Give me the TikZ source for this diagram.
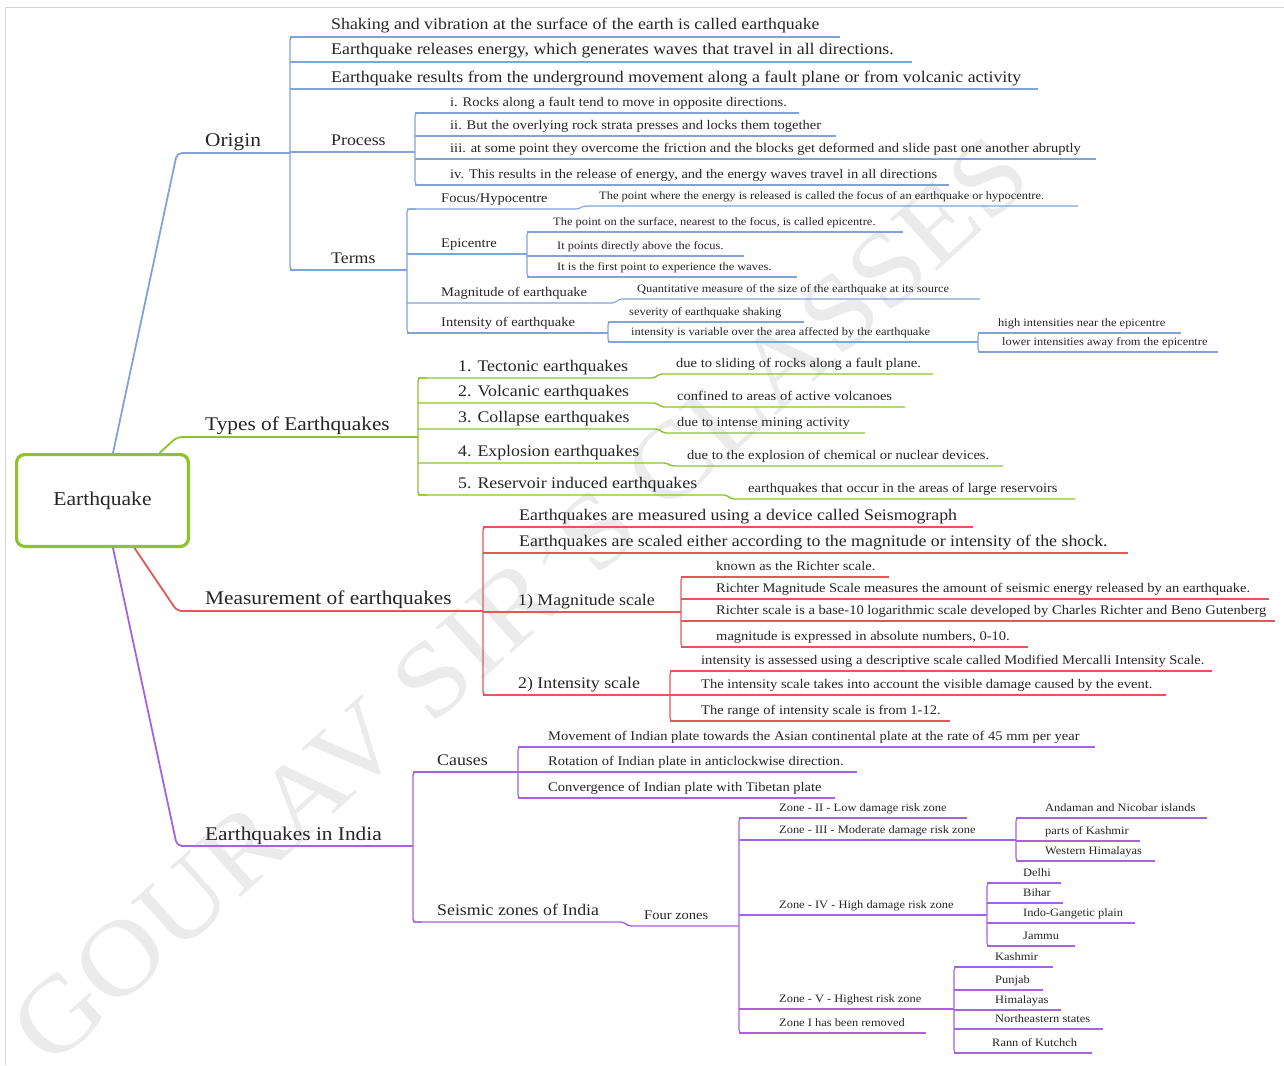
\documentclass[tikz,border=0pt]{standalone}
\usepackage{fontspec}
\setmainfont{Liberation Serif}[FakeStretch=1.1]
\definecolor{cblue}{RGB}{128,164,216}
\definecolor{cgreen}{RGB}{141,196,45}
\definecolor{cred}{RGB}{226,88,88}
\definecolor{cpurp}{RGB}{166,98,226}
\definecolor{cframe}{RGB}{212,212,212}
\newcommand\mmleaf[8]{\draw[#2] (#4,#7) -- (#6,#7); \node[txt,#3] (#1) at (#5,#7-7) {#8};}
\newcommand\mmtrunk[4]{\draw[#1, rounded corners=3pt] (#2+9,#3) -- (#2,#3) -- (#2,#4) -- (#2+9,#4);}
\begin{document}
\begin{tikzpicture}[x=1pt,y=-1pt,
  txt/.style={anchor=base west, inner sep=0pt, text=black!85},
  fA/.style={font=\fontsize{19.4}{23}\selectfont},
  fB/.style={font=\fontsize{16.2}{19}\selectfont},
  fC/.style={font=\fontsize{13.2}{16}\selectfont},
  fD/.style={font=\fontsize{11.3}{14}\selectfont},
  b1/.style={draw=cblue, line width=1.8pt}, b2/.style={draw=cblue, line width=1.4pt}, b3/.style={draw=cblue, line width=1.1pt},
  g1/.style={draw=cgreen, line width=1.8pt}, g2/.style={draw=cgreen, line width=1.4pt}, g3/.style={draw=cgreen, line width=1.1pt},
  r1/.style={draw=cred, line width=1.8pt}, r2/.style={draw=cred, line width=1.4pt}, r3/.style={draw=cred, line width=1.1pt},
  p1/.style={draw=cpurp, line width=1.8pt}, p2/.style={draw=cpurp, line width=1.4pt}, p3/.style={draw=cpurp, line width=1.1pt},
  stepline/.style={rounded corners=2pt}
]
\useasboundingbox (0,0) rectangle (1284,1065);
\fill[white] (0,0) rectangle (1284,1065);
\draw[cframe, line width=0.8pt] (5,1065) -- (5,7) -- (1284,7);
% watermark
\node[rotate=42, text=black!8, font=\fontsize{106}{106}\selectfont, inner sep=0pt] (wm) at (520,600) {GOURAV SIR'S CLASSES};

% central node
\node[draw=cgreen, line width=3.2pt, rounded corners=8pt, minimum width=171.8pt, minimum height=91.8pt, fill=white, fA, font=\fontsize{19.6}{23}\selectfont, text=black!85] (ctr) at (102.5,500.5) {Earthquake};

% main branches
\draw[b1, rounded corners=5pt] ([xshift=10.5pt]ctr.north) -- (177,153) -- (290,153);
\draw[g1, rounded corners=5pt] ([xshift=57pt]ctr.north) -- (177,437) -- (418,437);
\draw[r1, rounded corners=5pt] ([xshift=32pt]ctr.south) -- (177,611) -- (483,611);
\draw[p1, rounded corners=5pt] ([xshift=10.5pt]ctr.south) -- (177,846) -- (413,846);
\node[txt,fA] (origin) at (205,146) {Origin};
\node[txt,fA] (types) at (205,430) {Types of Earthquakes};
\node[txt,fA] (meas) at (205,604) {Measurement of earthquakes};
\node[txt,fA] (india) at (205,840) {Earthquakes in India};

% ---------- Origin ----------
\mmtrunk{b2}{290}{37}{270}
\mmleaf{o1}{b2}{fB}{290}{331}{840}{37}{Shaking and vibration at the surface of the earth is called earthquake}
\mmleaf{o2}{b2}{fB}{290}{331}{912}{62}{Earthquake releases energy, which generates waves that travel in all directions.}
\mmleaf{o3}{b2}{fB}{290}{331}{1038}{89}{Earthquake results from the underground movement along a fault plane or from volcanic activity}
\mmleaf{proc}{b2}{fB}{290}{331}{415}{152}{Process}
\mmleaf{terms}{b2}{fB}{290}{331}{407}{270}{Terms}
% Process
\mmtrunk{b3}{415}{113}{185}
\mmleaf{pr1}{b3}{fC}{415}{450}{799}{113}{i. Rocks along a fault tend to move in opposite directions.}
\mmleaf{pr2}{b3}{fC}{415}{450}{836}{136}{ii. But the overlying rock strata presses and locks them together}
\mmleaf{pr3}{b3}{fC}{415}{450}{1096}{159}{iii. at some point they overcome the friction and the blocks get deformed and slide past one another abruptly}
\mmleaf{pr4}{b3}{fC}{415}{450}{949}{185}{iv. This results in the release of energy, and the energy waves travel in all directions}
% Terms
\mmtrunk{b3}{407}{209}{333}
\draw[b3, stepline] (407,209) -- (578,209) -- (584,206) -- (1078,206);
\node[txt,fC] (focus) at (441,202) {Focus/Hypocentre};
\node[txt,fD] (focusd) at (599,199) {The point where the energy is released is called the focus of an earthquake or hypocentre.};
\mmleaf{epi}{b3}{fC}{407}{441}{527}{254}{Epicentre}
\mmtrunk{b3}{527}{232}{277}
\mmleaf{ep1}{b3}{fD}{527}{553}{903}{232}{The point on the surface, nearest to the focus, is called epicentre.}
\mmleaf{ep2}{b3}{fD}{527}{557}{744}{256}{It points directly above the focus.}
\mmleaf{ep3}{b3}{fD}{527}{557}{797}{277}{It is the first point to experience the waves.}
\draw[b3, stepline] (407,303) -- (614,303) -- (620,299) -- (980,299);
\node[txt,fC] (magq) at (441,296) {Magnitude of earthquake};
\node[txt,fD] (magqd) at (637,292) {Quantitative measure of the size of the earthquake at its source};
\mmleaf{intq}{b3}{fC}{407}{441}{608}{333}{Intensity of earthquake}
\mmtrunk{b3}{608}{322}{342}
\mmleaf{iq1}{b3}{fD}{608}{629}{804}{322}{severity of earthquake shaking}
\mmleaf{iq2}{b3}{fD}{608}{631}{978}{342}{intensity is variable over the area affected by the earthquake}
\mmtrunk{b3}{978}{333}{352}
\mmleaf{hq1}{b3}{fD}{978}{998}{1181}{333}{high intensities near the epicentre}
\mmleaf{hq2}{b3}{fD}{978}{1002}{1218}{352}{lower intensities away from the epicentre}

% ---------- Types ----------
\mmtrunk{g2}{418}{378}{495}
\draw[g2, stepline] (418,378) -- (654,378) -- (660,374) -- (933,374);
\draw[g2, stepline] (418,403) -- (656,403) -- (662,407) -- (905,407);
\draw[g2, stepline] (418,429) -- (658,429) -- (664,433) -- (865,433);
\draw[g2, stepline] (418,463) -- (666,463) -- (672,466) -- (1003,466);
\draw[g2, stepline] (418,495) -- (726,495) -- (732,499) -- (1075,499);
\node[txt,fB] (ty1) at (458,371) {1. Tectonic earthquakes};
\node[txt,fB] (ty2) at (458,396) {2. Volcanic earthquakes};
\node[txt,fB] (ty3) at (458,422) {3. Collapse earthquakes};
\node[txt,fB] (ty4) at (458,456) {4. Explosion earthquakes};
\node[txt,fB] (ty5) at (458,488) {5. Reservoir induced earthquakes};
\node[txt,fC] (ty1d) at (676,367) {due to sliding of rocks along a fault plane.};
\node[txt,fC] (ty2d) at (677,400) {confined to areas of active volcanoes};
\node[txt,fC] (ty3d) at (677,426) {due to intense mining activity};
\node[txt,fC] (ty4d) at (687,459) {due to the explosion of chemical or nuclear devices.};
\node[txt,fC] (ty5d) at (748,492) {earthquakes that occur in the areas of large reservoirs};

% ---------- Measurement ----------
\mmtrunk{r2}{483}{527}{695}
\mmleaf{me1}{r2}{fB}{483}{519}{973}{527}{Earthquakes are measured using a device called Seismograph}
\mmleaf{me2}{r2}{fB}{483}{519}{1128}{553}{Earthquakes are scaled either according to the magnitude or intensity of the shock.}
\mmleaf{mag}{r2}{fB}{483}{518}{681}{612}{1) Magnitude scale}
\mmleaf{ints}{r2}{fB}{483}{518}{670}{695}{2) Intensity scale}
\mmtrunk{r3}{681}{577}{647}
\mmleaf{mg1}{r3}{fC}{681}{716}{889}{577}{known as the Richter scale.}
\mmleaf{mg2}{r3}{fC}{681}{716}{1269}{599}{Richter Magnitude Scale measures the amount of seismic energy released by an earthquake.}
\mmleaf{mg3}{r3}{fC}{681}{716}{1275}{621}{Richter scale is a base-10 logarithmic scale developed by Charles Richter and Beno Gutenberg}
\mmleaf{mg4}{r3}{fC}{681}{716}{1028}{647}{magnitude is expressed in absolute numbers, 0-10.}
\mmtrunk{r3}{670}{671}{721}
\mmleaf{is1}{r3}{fC}{670}{701}{1212}{671}{intensity is assessed using a descriptive scale called Modified Mercalli Intensity Scale.}
\mmleaf{is2}{r3}{fC}{670}{701}{1166}{695}{The intensity scale takes into account the visible damage caused by the event.}
\mmleaf{is3}{r3}{fC}{670}{701}{950}{721}{The range of intensity scale is from 1-12.}

% ---------- India ----------
\mmtrunk{p2}{413}{772}{922}
\mmleaf{causes}{p2}{fB}{413}{437}{518}{772}{Causes}
\draw[p2, stepline] (413,922) -- (623,922) -- (629,926) -- (739,926);
\node[txt,fB] (seis) at (437,915) {Seismic zones of India};
\node[txt,fC] (four) at (644,919) {Four zones};
\mmtrunk{p3}{518}{747}{798}
\mmleaf{ca1}{p3}{fC}{518}{548}{1095}{747}{Movement of Indian plate towards the Asian continental plate at the rate of 45 mm per year}
\mmleaf{ca2}{p3}{fC}{518}{548}{857}{772}{Rotation of Indian plate in anticlockwise direction.}
\mmleaf{ca3}{p3}{fC}{518}{548}{835}{798}{Convergence of Indian plate with Tibetan plate}
\mmtrunk{p3}{739}{818}{1033}
\mmleaf{z2}{p3}{fD}{739}{779}{967}{818}{Zone - II - Low damage risk zone}
\mmleaf{z3}{p3}{fD}{739}{779}{1016}{840}{Zone - III - Moderate damage risk zone}
\mmleaf{z4}{p3}{fD}{739}{779}{987}{915}{Zone - IV - High damage risk zone}
\mmleaf{z5}{p3}{fD}{739}{779}{954}{1009}{Zone - V - Highest risk zone}
\mmleaf{z1}{p3}{fD}{739}{779}{926}{1033}{Zone I has been removed}
\mmtrunk{p3}{1016}{818}{861}
\mmleaf{z3a}{p3}{fD}{1016}{1045}{1207}{818}{Andaman and Nicobar islands}
\mmleaf{z3b}{p3}{fD}{1016}{1045}{1140}{841}{parts of Kashmir}
\mmleaf{z3c}{p3}{fD}{1016}{1045}{1155}{861}{Western Himalayas}
\mmtrunk{p3}{987}{883}{946}
\mmleaf{z4a}{p3}{fD}{987}{1023}{1061}{883}{Delhi}
\mmleaf{z4b}{p3}{fD}{987}{1023}{1063}{903}{Bihar}
\mmleaf{z4c}{p3}{fD}{987}{1023}{1135}{923}{Indo-Gangetic plain}
\mmleaf{z4d}{p3}{fD}{987}{1023}{1075}{946}{Jammu}
\mmtrunk{p3}{954}{967}{1053}
\mmleaf{z5a}{p3}{fD}{954}{995}{1053}{967}{Kashmir}
\mmleaf{z5b}{p3}{fD}{954}{995}{1043}{990}{Punjab}
\mmleaf{z5c}{p3}{fD}{954}{995}{1061}{1010}{Himalayas}
\mmleaf{z5d}{p3}{fD}{954}{995}{1103}{1029}{Northeastern states}
\mmleaf{z5e}{p3}{fD}{954}{992}{1092}{1053}{Rann of Kutchch}
\end{tikzpicture}
\end{document}
